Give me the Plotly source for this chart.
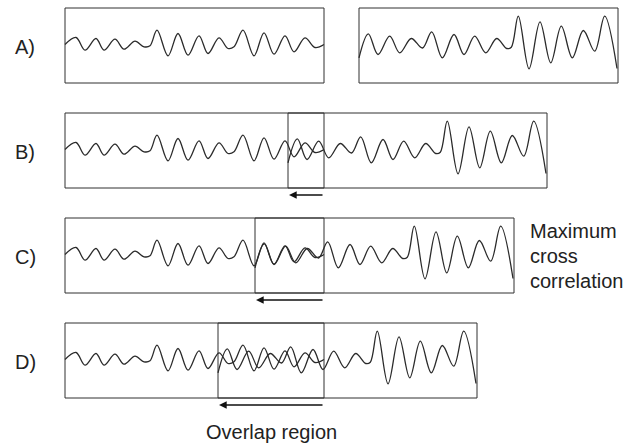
import plotly.graph_objects as go

# ---- data: extrema of the two signals (x: samples from window start, y: amplitude) ----
sig1_x = [0, 11, 20, 31, 39, 50, 59, 70, 79, 85, 92, 103, 113, 123, 134, 143, 154, 163, 169,
          178, 189, 199, 209, 220, 229, 240, 250, 259]
sig1_y = [0, 7, -5.7, 6, -5.7, 5.3, -4.7, 3.3, -2.3, -1.3, 14.3, -11.3, 11, -10.7, 8.7, -9, 6.7, -4, -2.3,
          14.3, -11.3, 11.7, -9.7, 8.7, -7.3, 6.7, -3, 0]

sig2_x = [0, 9.3, 19, 30.7, 40.7, 52.3, 63.5, 72.7, 83.3, 95, 105, 115.7, 126.7, 137.7, 147.7, 152.3,
          159.3, 170, 181, 191.7, 202.3, 213.3, 224.3, 235.7, 245.7, 258]
sig2_y = [-13.3, 10.7, -10, 8.3, -8.3, 6, -3.5, 12.7, -13.3, 10, -10, 8.3, -8.3, 6, -4, -2.7,
          28.3, -24.3, 22.7, -18.3, 18.3, -13.3, 14, -6.7, 28.3, -24]

row_labels = ["A)", "B)", "C)", "D)"]
shifts = [294, 223, 190, 153]          # offset of signal 2 relative to signal 1
side_text = ["Maximum", "cross", "correlation"]
bottom_text = "Overlap region"

# ---- layout constants ----
W, H = 629, 444
X0 = 65
WIN = 259
BOX_H = 75
row_tops = [8, 113, 218, 323]
WAVE_COLOR = "#2b2b2b"
BOX_COLOR = "#303030"
FONT = dict(family="Arial, Liberation Sans, sans-serif", size=20, color="#222222")

fig = go.Figure()
shapes = []
annotations = []

for i, (lab, sh, top) in enumerate(zip(row_labels, shifts, row_tops)):
    mid = top + BOX_H / 2 - 1
    # signal 1
    fig.add_trace(go.Scatter(
        x=[X0 + v for v in sig1_x], y=[mid - v for v in sig1_y],
        mode="lines", line=dict(color=WAVE_COLOR, width=1.3, shape="spline", smoothing=1.0),
        hoverinfo="skip", showlegend=False))
    # signal 2
    fig.add_trace(go.Scatter(
        x=[X0 + sh + v for v in sig2_x], y=[mid - v for v in sig2_y],
        mode="lines", line=dict(color=WAVE_COLOR, width=1.3, shape="spline", smoothing=1.0),
        hoverinfo="skip", showlegend=False))
    # window boxes
    shapes.append(dict(type="rect", xref="x", yref="y", x0=X0, x1=X0 + WIN, y0=top, y1=top + BOX_H,
                       line=dict(color=BOX_COLOR, width=1)))
    shapes.append(dict(type="rect", xref="x", yref="y", x0=X0 + sh, x1=X0 + sh + WIN, y0=top, y1=top + BOX_H,
                       line=dict(color=BOX_COLOR, width=1)))
    # row label
    annotations.append(dict(x=25, y=top + BOX_H / 2 + 1, xref="x", yref="y", text=lab, showarrow=False,
                            font=FONT, xanchor="center", yanchor="middle"))
    # overlap arrow
    if i > 0:
        annotations.append(dict(x=X0 + sh + 1, y=top + BOX_H + 7, ax=X0 + WIN, ay=top + BOX_H + 7,
                                xref="x", yref="y", axref="x", ayref="y", text="", showarrow=True,
                                arrowhead=2, arrowsize=1.1, arrowwidth=1.4, arrowcolor="#111111"))

# side text for row C
for k, t in enumerate(side_text):
    annotations.append(dict(x=528, y=231 + 25 * k, xref="x", yref="y", text=t, showarrow=False,
                            font=FONT, xanchor="left", yanchor="middle"))

annotations.append(dict(x=271, y=432, xref="x", yref="y", text=bottom_text, showarrow=False,
                        font=FONT, xanchor="center", yanchor="middle"))

fig.update_layout(
    width=W, height=H, margin=dict(l=0, r=0, t=0, b=0),
    paper_bgcolor="white", plot_bgcolor="white",
    xaxis=dict(range=[0, W], visible=False, fixedrange=True),
    yaxis=dict(range=[H, 0], visible=False, fixedrange=True),
    shapes=shapes, annotations=annotations, showlegend=False,
)

fig.write_html("out.html", config={"displayModeBar": False},
               post_script="document.body.style.margin='0';document.body.style.overflow='hidden';")
